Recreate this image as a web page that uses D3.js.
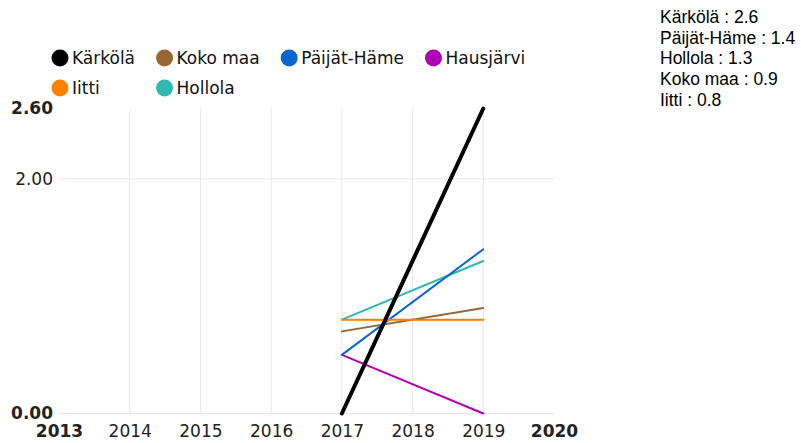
<!DOCTYPE html>
<html>
<head>
<meta charset="utf-8">
<script src="https://cdn.jsdelivr.net/npm/d3@7"></script>
<style>
  html, body { margin: 0; padding: 0; background: #fff; }
  svg { display: block; }
</style>
</head>
<body>
<svg id="chart" width="801" height="443"></svg>
<script>
// ---- data ----
const years = [2017, 2019];
const seriesNames = ["Kärkölä", "Koko maa", "Päijät-Häme", "Hausjärvi", "Iitti", "Hollola"];
const seriesColors = ["#000000", "#9a6634", "#0a66cf", "#b000b4", "#ff8000", "#30b8b2"];
const karkolaValues = [0.0, 2.6];
const kokoMaaValues = [0.7, 0.9];
const paijatHameValues = [0.5, 1.4];
const hausjarviValues = [0.5, 0.0];
const iittiValues = [0.8, 0.8];
const hollolaValues = [0.8, 1.3];
const xTicks = [2013, 2014, 2015, 2016, 2017, 2018, 2019, 2020];
const yTicks = [0, 2.0, 2.6];
const yGridTicks = [0, 2.0];
const xGridTicks = [2014, 2015, 2016, 2017, 2018, 2019];

const seriesValues = [karkolaValues, kokoMaaValues, paijatHameValues, hausjarviValues, iittiValues, hollolaValues];
const series = seriesNames.map((name, i) => ({
  name, color: seriesColors[i],
  points: years.map((yr, j) => ({ year: yr, value: seriesValues[i][j] }))
}));

// ---- layout ----
const svg = d3.select("#chart");
const x = d3.scaleLinear().domain([2013, 2020]).range([59, 554]);
const y = d3.scaleLinear().domain([0, 2.6]).range([413.5, 108.5]);

const grid = svg.append("g");
grid.selectAll("line.v").data(xGridTicks).join("line")
  .attr("x1", d => x(d)).attr("x2", d => x(d))
  .attr("y1", y(2.6)).attr("y2", y(0))
  .attr("stroke", "#e8e8e8").attr("stroke-width", 1);
grid.selectAll("line.h").data(yGridTicks).join("line")
  .attr("x1", x(2013)).attr("x2", x(2020))
  .attr("y1", d => y(d)).attr("y2", d => y(d))
  .attr("stroke", "#e8e8e8").attr("stroke-width", 1);

// axes
const fontAxis = "'DejaVu Sans', Verdana, sans-serif";
const yAxis = svg.append("g").attr("transform", `translate(${x(2013)},0)`)
  .call(d3.axisLeft(y).tickValues(yTicks).tickFormat(d3.format(".2f")).tickSize(0).tickPadding(6));
yAxis.select(".domain").remove();
yAxis.selectAll("text")
  .attr("font-family", fontAxis).attr("font-size", 17).attr("fill", "#222")
  .attr("font-weight", (d, i) => (d === 0 || d === 2.6) ? "bold" : "normal");

const xAxis = svg.append("g").attr("transform", `translate(0,${y(0)})`)
  .call(d3.axisBottom(x).tickValues(xTicks).tickFormat(d3.format("d")).tickSize(0).tickPadding(11.5));
xAxis.select(".domain").remove();
xAxis.selectAll("text")
  .attr("font-family", fontAxis).attr("font-size", 17).attr("fill", "#222")
  .attr("font-weight", d => (d === 2013 || d === 2020) ? "bold" : "normal");

// lines
const line = d3.line().x(d => x(d.year)).y(d => y(d.value));
const drawOrder = [5, 3, 2, 1, 4, 0];
svg.append("g").selectAll("path").data(drawOrder.map(i => series[i])).join("path")
  .attr("d", d => line(d.points))
  .attr("fill", "none")
  .attr("stroke", d => d.color)
  .attr("stroke-width", d => d.name === "Kärkölä" ? 4 : 2)
  .attr("stroke-linecap", "round");

// legend
const legend = svg.append("g");
const perRow = 4;
const legendStartX = 60, rowY0 = 58, rowGap = 30, gapAfter = 29.5;
const items = legend.selectAll("g").data(series).join("g");
items.append("circle").attr("r", 8.5).attr("fill", d => d.color);
items.append("text").text(d => d.name)
  .attr("x", 12).attr("y", 6)
  .attr("font-family", fontAxis).attr("font-size", 17).attr("fill", "#111");
const colX = [];
let cx = legendStartX;
items.each(function (d, i) {
  const w = d3.select(this).select("text").node().getComputedTextLength();
  if (i < perRow) { colX.push(cx); cx += 12 + w + gapAfter; }
});
items.attr("transform", (d, i) => `translate(${colX[i % perRow]},${rowY0 + Math.floor(i / perRow) * rowGap})`);

// value list top-right
const last = series.map(s => ({ name: s.name, value: s.points[s.points.length - 1].value }))
  .filter(d => d.value > 0)
  .sort((a, b) => b.value - a.value);
svg.append("g").selectAll("text").data(last).join("text")
  .attr("x", 660).attr("y", (d, i) => 23 + i * 20.7)
  .attr("font-family", "'Liberation Sans', Arial, sans-serif").attr("font-size", 17.5)
  .attr("fill", "#000")
  .text(d => `${d.name} : ${d.value}`);
</script>
</body>
</html>
